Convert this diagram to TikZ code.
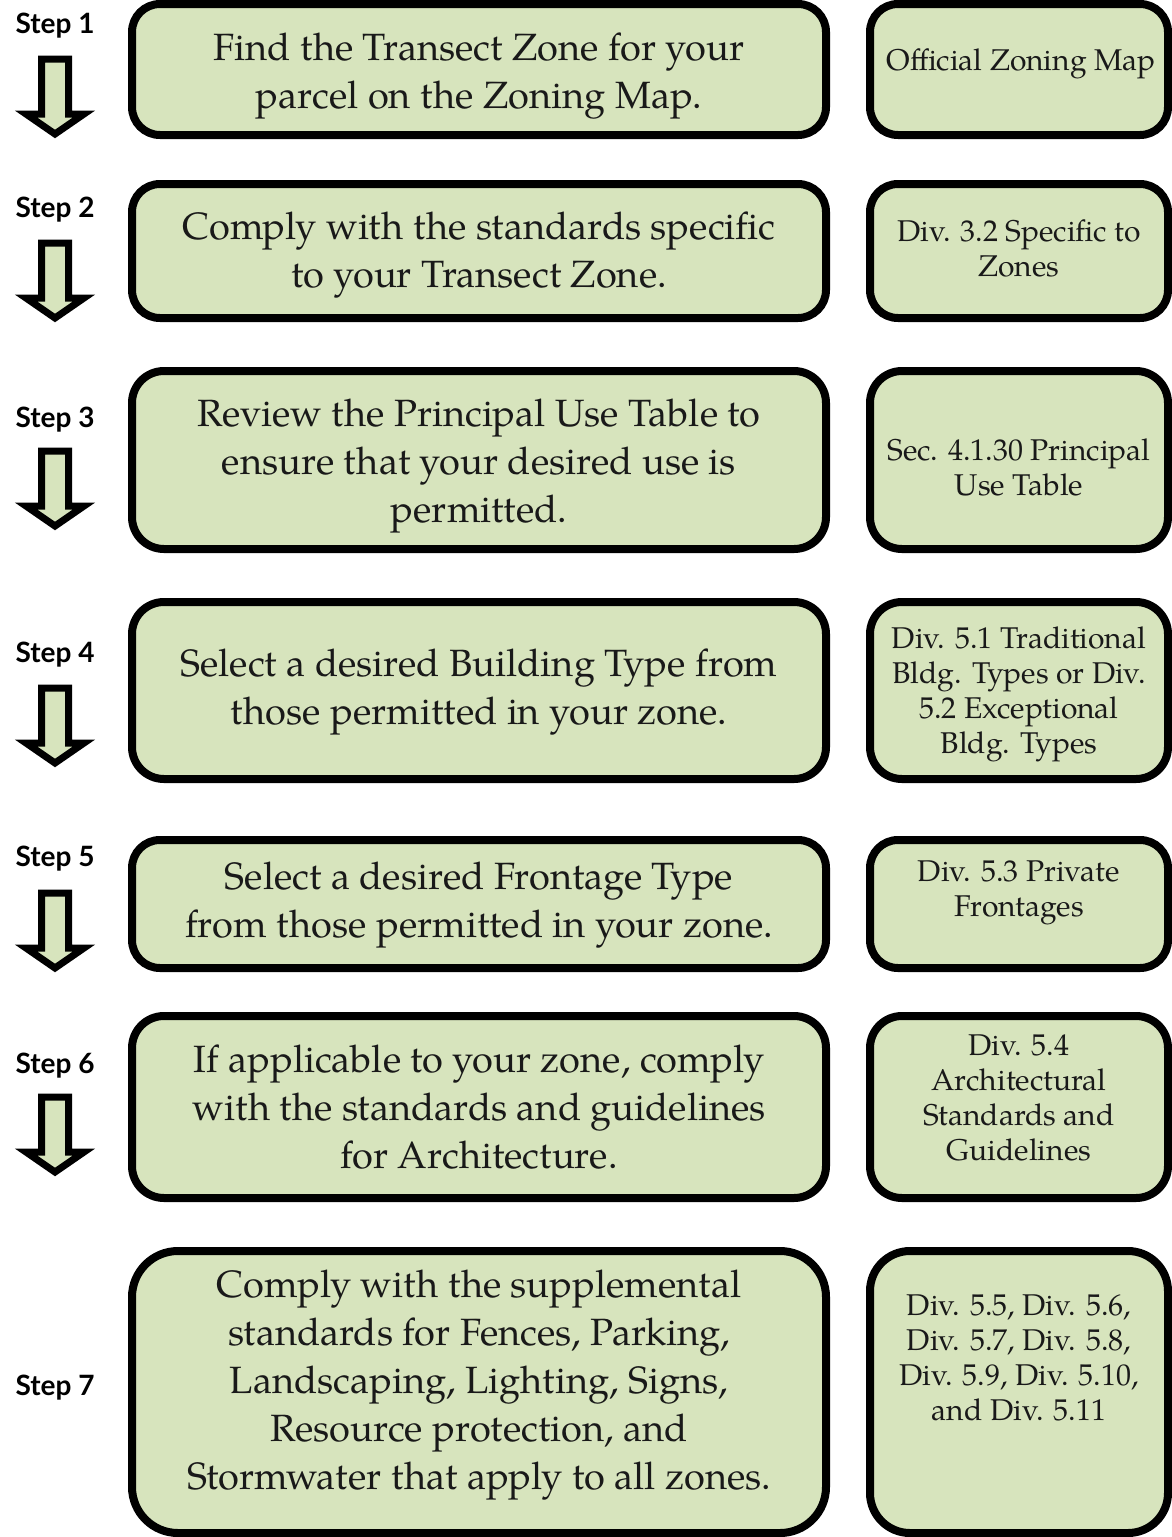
\documentclass[tikz,border=0pt]{standalone}
\usepackage{fontspec}
\setmainfont{TeX Gyre Pagella}
\newfontfamily\stepfont{Lato}
\definecolor{boxgreen}{HTML}{D7E4BD}
\tikzset{
	stepbox/.style={draw=black, line width=8pt, fill=boxgreen},
	steparrow/.style={draw=black, line width=7pt, fill=boxgreen, line join=miter},
	maintext/.style={align=center, text=black!90, font=\fontsize{38}{48}\selectfont},
	reftext/.style={align=center, text=black!90, font=\fontsize{30}{35}\selectfont},
	steplabel/.style={anchor=base west, font=\stepfont\bfseries\fontsize{28}{30}\selectfont},
}
\def\blockarrow(#1){\draw[steparrow] (41.5,#1+4) -- (68.5,#1+4) -- (68.5,#1+59) -- (84,#1+59) -- (55,#1+79) -- (26,#1+59) -- (41.5,#1+59) -- cycle;}

\begin{document}
\begin{tikzpicture}[x=1pt, y=-1pt]
				\useasboundingbox (0, 0) rectangle (1172, 1537);
				
				% step labels and arrows
				\node[steplabel] (step1) at (12, 33) {Step 1};
				\blockarrow(55)
				\node[steplabel] (step2) at (12, 217) {Step 2};
				\blockarrow(239)
				\node[steplabel] (step3) at (12, 427) {Step 3};
				\blockarrow(447)
				\node[steplabel] (step4) at (12, 662) {Step 4};
				\blockarrow(684)
				\node[steplabel] (step5) at (12, 866) {Step 5};
				\blockarrow(889)
				\node[steplabel] (step6) at (12, 1073) {Step 6};
				\blockarrow(1093)
				\node[steplabel] (step7) at (12, 1395) {Step 7};
				
				% main boxes
				\draw[stepbox, rounded corners=28pt] (132, 4) rectangle (826, 135);
				\draw[stepbox, rounded corners=28pt] (132, 184) rectangle (826, 318);
				\draw[stepbox, rounded corners=32pt] (132, 371) rectangle (826, 549);
				\draw[stepbox, rounded corners=32pt] (132, 602) rectangle (826, 779);
				\draw[stepbox, rounded corners=28pt] (132, 840) rectangle (826, 968);
				\draw[stepbox, rounded corners=32pt] (132, 1016) rectangle (826, 1198);
				\draw[stepbox, rounded corners=46pt] (132, 1251) rectangle (826, 1533);
				
				% reference boxes
				\draw[stepbox, rounded corners=28pt] (870, 4) rectangle (1168, 135);
				\draw[stepbox, rounded corners=28pt] (870, 184) rectangle (1168, 318);
				\draw[stepbox, rounded corners=32pt] (870, 371) rectangle (1168, 549);
				\draw[stepbox, rounded corners=32pt] (870, 602) rectangle (1168, 779);
				\draw[stepbox, rounded corners=28pt] (870, 840) rectangle (1168, 968);
				\draw[stepbox, rounded corners=32pt] (870, 1016) rectangle (1168, 1198);
				\draw[stepbox, rounded corners=40pt] (870, 1251) rectangle (1168, 1533);
				
				% texts
				\node[maintext] (main1) at (479, 76) {Find the Transect Zone for your\\parcel on the Zoning Map.};
				\node[maintext] (main2) at (479, 255) {Comply with the standards specific\\to your Transect Zone.};
				\node[maintext] (main3) at (479, 466) {Review the Principal Use Table to\\ensure that your desired use is\\permitted.};
				\node[maintext] (main4) at (479, 692) {Select a desired Building Type from\\those permitted in your zone.};
				\node[maintext] (main5) at (479, 905) {Select a desired Frontage Type\\from those permitted in your zone.};
				\node[maintext] (main6) at (479, 1107) {If applicable to your zone, comply\\with the standards and guidelines\\for Architecture.};
				\node[maintext] (main7) at (479, 1385) {Comply with the supplemental\\standards for Fences, Parking,\\Landscaping, Lighting, Signs,\\Resource protection, and\\Stormwater that apply to all zones.};
				
				\node[reftext] (ref1) at (1021, 64) {Official Zoning Map};
				\node[reftext] (ref2) at (1019, 248) {Div. 3.2 Specific to\\Zones};
				\node[reftext] (ref3) at (1019, 467) {Sec. 4.1.30 Principal\\Use Table};
				\node[reftext] (ref4) at (1019, 694) {Div. 5.1 Traditional\\Bldg. Types or Div.\\5.2 Exceptional\\Bldg. Types};
				\node[reftext] (ref5) at (1019, 893) {Div. 5.3 Private\\Frontages};
				\node[reftext] (ref6) at (1019, 1098) {Div. 5.4\\Architectural\\Standards and\\Guidelines};
				\node[reftext] (ref7) at (1019, 1358) {Div. 5.5, Div. 5.6,\\Div. 5.7, Div. 5.8,\\Div. 5.9, Div. 5.10,\\and Div. 5.11};
			\end{tikzpicture}
\end{document}
